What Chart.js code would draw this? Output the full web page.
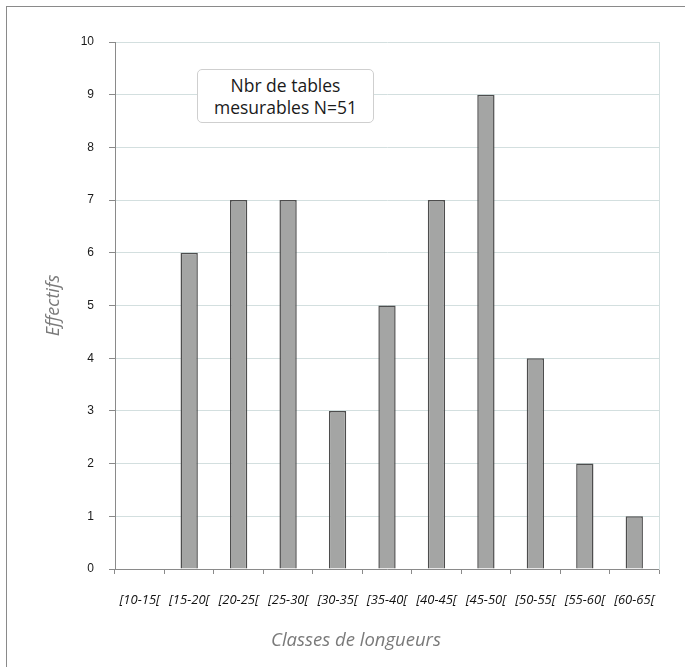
<!DOCTYPE html>
<html>
<head>
<meta charset="utf-8">
<script src="https://cdn.jsdelivr.net/npm/chart.js@4/dist/chart.umd.min.js"></script>
<style>
  html, body { margin: 0; padding: 0; background: #fff; }
  #wrap { position: relative; width: 685px; height: 667px; overflow: hidden; }
  #frame { position: absolute; left: 6px; top: 6px; width: 700px; height: 700px;
           border-left: 1px solid #8a8a8a; border-top: 1px solid #8a8a8a; box-sizing: border-box; }
  canvas { position: absolute; left: 0; top: 0; }
  #note { position: absolute; left: 197px; top: 69px; width: 177px; height: 54px;
          border: 1px solid #cfcfcf; border-radius: 5px; box-sizing: border-box; background: #fff;
          font-family: "Open Sans", sans-serif; font-size: 17.5px; line-height: 22px; color: #1a1a1a;
          text-align: center; padding-top: 4px; white-space: nowrap; }
  #xtitle { position: absolute; left: 256px; top: 627px; width: 200px; text-align: center;
            font-family: "Open Sans", sans-serif; font-style: italic; font-size: 18.5px; line-height: 24px;
            color: #7a7a7a; white-space: nowrap; }
</style>
</head>
<body>
<div id="wrap">
  <div id="frame"></div>
  <canvas id="c" width="685" height="667"></canvas>
  <div id="note">Nbr de tables<br>mesurables N=51</div>
  <div id="xtitle"></div>
</div>
<script>
const categories = ["[10-15[", "[15-20[", "[20-25[", "[25-30[", "[30-35[", "[35-40[", "[40-45[", "[45-50[", "[50-55[", "[55-60[", "[60-65["];
const effectifs = [0, 6, 7, 7, 3, 5, 7, 9, 4, 2, 1];
const yTicks = [0, 1, 2, 3, 4, 5, 6, 7, 8, 9, 10];
const xTitle = "Classes de longueurs";
const yTitle = "Effectifs";

document.getElementById('xtitle').textContent = xTitle;

new Chart(document.getElementById('c'), {
  type: 'bar',
  data: {
    labels: categories,
    datasets: [{
      label: 'Effectifs',
      data: effectifs,
      backgroundColor: '#a4a5a4',
      borderColor: '#4d4d4d',
      borderWidth: 1.5,
      barPercentage: 0.35,
      categoryPercentage: 1.0
    }]
  },
  options: {
    responsive: false,
    animation: false,
    devicePixelRatio: 1,
    layout: { padding: { top: 42, right: 26, left: 0, bottom: 0 } },
    plugins: { legend: { display: false }, tooltip: { enabled: false } },
    scales: {
      x: {
        offset: true,
        grid: { offset: true, drawOnChartArea: false, tickLength: 5, tickColor: '#8a8a8a', lineWidth: 1 },
        border: { color: '#8a8a8a', width: 1 },
        ticks: { color: '#111', padding: 18, maxRotation: 0, autoSkip: false,
                 font: { family: '"Open Sans", sans-serif', size: 13, style: 'italic' } },
        afterFit: (s) => { s.height = 98; }
      },
      y: {
        min: 0, max: 10,
        afterBuildTicks: (s) => { s.ticks = yTicks.map(v => ({ value: v })); },
        grid: { color: '#d3dfdf', lineWidth: 1, tickLength: 6, tickColor: '#8a8a8a' },
        border: { color: '#8a8a8a', width: 1 },
        ticks: { color: '#1a1a1a', padding: 15,
                 font: { family: '"Liberation Sans", Arial, sans-serif', size: 12 } },
        title: { display: true, text: yTitle, color: '#7a7a7a', padding: { top: 43, bottom: 0 },
                 font: { family: '"Open Sans", sans-serif', size: 18, style: 'italic' } },
        afterFit: (s) => { s.width = 115; }
      },
      y2: {
        position: 'right', min: 0, max: 10,
        grid: { drawOnChartArea: false, drawTicks: false },
        border: { color: '#d3dfdf', width: 1 },
        ticks: { display: false },
        afterFit: (s) => { s.width = 0; }
      }
    }
  }
});
</script>
</body>
</html>
